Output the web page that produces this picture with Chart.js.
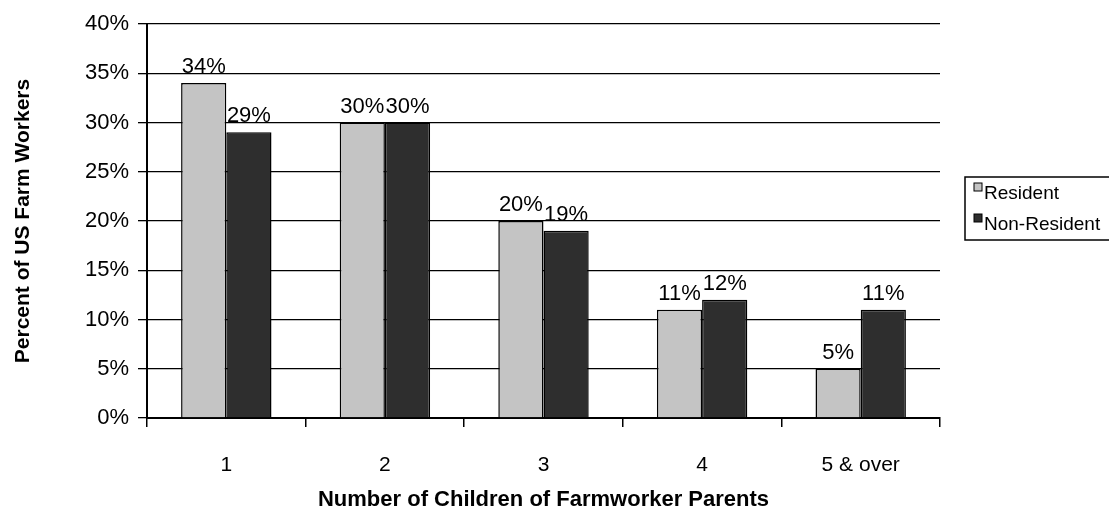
<!DOCTYPE html>
<html>
<head>
<meta charset="utf-8">
<title>Children of Farmworker Parents</title>
<script src="https://cdn.jsdelivr.net/npm/chart.js@4.4.1/dist/chart.umd.min.js"></script>
<style>
  html, body { margin: 0; padding: 0; background: #fff; }
  #wrap { position: relative; width: 1109px; height: 524px; }
</style>
</head>
<body>
<div id="wrap"><canvas id="myBarChart" width="1109" height="524"></canvas></div>
<script>
// data
var categories = ["1", "2", "3", "4", "5 & over"];
var residentValues = [34, 30, 20, 11, 5];
var nonResidentValues = [29, 30, 19, 12, 11];
var seriesLabels = ["Resident", "Non-Resident"];
var yTicks = [0, 5, 10, 15, 20, 25, 30, 35, 40];

var FONT = '"Liberation Sans", Arial, sans-serif';

// value labels on top of each bar
var barLabels = {
    id: 'barLabels',
    afterDatasetsDraw: function(chart) {
        var ctx = chart.ctx;
        ctx.save();
        ctx.font = '22px ' + FONT;
        ctx.fillStyle = '#000';
        ctx.textAlign = 'center';
        ctx.textBaseline = 'bottom';
        chart.data.datasets.forEach(function(ds, i) {
            chart.getDatasetMeta(i).data.forEach(function(bar, j) {
                ctx.fillText(ds.data[j] + '%', bar.x, bar.y - 5);
            });
        });
        ctx.restore();
    }
};

// boxed legend to the right of the plot
var boxLegend = {
    id: 'boxLegend',
    afterDraw: function(chart) {
        var ctx = chart.ctx;
        var area = chart.chartArea;
        var left = area.right + 25;
        var top = (area.top + area.bottom) / 2 - 44;
        var w = chart.width - left - 1;
        var h = 63;
        ctx.save();
        ctx.strokeStyle = '#000';
        ctx.lineWidth = 1.5;
        ctx.strokeRect(left, top, w + 4, h);
        ctx.font = '19px ' + FONT;
        ctx.textBaseline = 'middle';
        ctx.textAlign = 'left';
        chart.data.datasets.forEach(function(ds, i) {
            var cy = top + 17 + i * 31;
            ctx.fillStyle = ds.backgroundColor;
            ctx.fillRect(left + 9, cy - 11, 8, 8);
            ctx.strokeStyle = '#000';
            ctx.lineWidth = 1;
            ctx.strokeRect(left + 9, cy - 11, 8, 8);
            ctx.fillStyle = '#000';
            ctx.fillText(ds.label, left + 19, cy);
        });
        ctx.restore();
    }
};

var ctx = document.getElementById("myBarChart");
var myBarChart = new Chart(ctx.getContext('2d'), {
    type: 'bar',
    data: {
        labels: categories,
        datasets: [{
            label: seriesLabels[0],
            backgroundColor: "#c4c4c4",
            borderColor: "#000",
            borderWidth: 1.5,
            data: residentValues
        }, {
            label: seriesLabels[1],
            backgroundColor: "#2e2e2e",
            borderColor: "#000",
            borderWidth: 1.5,
            data: nonResidentValues
        }]
    },
    options: {
        responsive: false,
        animation: false,
        events: [],
        layout: {
            padding: { left: 0, right: 169, top: 24, bottom: 0 }
        },
        datasets: {
            bar: {
                categoryPercentage: 0.57,
                barPercentage: 1.0
            }
        },
        scales: {
            x: {
                offset: true,
                grid: {
                    display: true,
                    offset: true,
                    drawOnChartArea: false,
                    color: '#000',
                    lineWidth: 1.5,
                    tickLength: 9
                },
                border: { display: true, color: '#000', width: 2 },
                ticks: {
                    color: '#000',
                    padding: 26,
                    font: { family: FONT, size: 21 }
                },
                title: {
                    display: true,
                    text: 'Number of Children of Farmworker Parents',
                    color: '#000',
                    font: { family: FONT, size: 22, weight: 'bold' },
                    padding: { top: 0, bottom: 11 }
                },
                afterFit: function(scale) {
                    scale.height = 524 - 418;
                }
            },
            y: {
                min: 0,
                max: 40,
                afterBuildTicks: function(scale) {
                    scale.ticks = yTicks.map(function(v) { return { value: v }; });
                },
                grid: {
                    color: '#000',
                    lineWidth: 1.3,
                    tickLength: 9
                },
                border: { display: true, color: '#000', width: 2 },
                ticks: {
                    color: '#000',
                    padding: 9,
                    font: { family: FONT, size: 22 },
                    callback: function(value) {
                        return value + '%';
                    }
                },
                title: {
                    display: true,
                    text: 'Percent of US Farm Workers',
                    color: '#000',
                    font: { family: FONT, size: 21, weight: 'bold' },
                    padding: { top: 11, bottom: 0 }
                },
                afterFit: function(scale) {
                    scale.width = 147;
                }
            }
        },
        plugins: {
            legend: { display: false },
            tooltip: { enabled: false }
        }
    },
    plugins: [barLabels, boxLegend]
});
</script>
</body>
</html>
